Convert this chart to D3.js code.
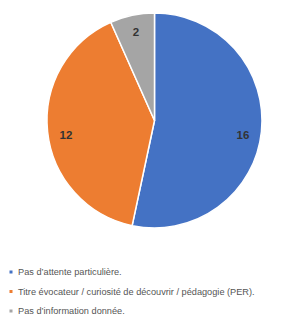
<!DOCTYPE html>
<html>
<head>
<meta charset="utf-8">
<script src="https://cdn.jsdelivr.net/npm/d3@7"></script>
<style>
  body { margin: 0; background: #fff; }
  svg { display: block; font-family: "Liberation Sans", Arial, sans-serif; }
</style>
</head>
<body>
<script>
// Données du camembert
const categories = [ 'Pas d\u2019attente particulière.', 'Titre évocateur / curiosité de découvrir / pédagogie (PER).', 'Pas d\u2019information donnée.' ],
	values = [ 16, 12, 2 ],
	colors = [ '#4472c4', '#ed7d31', '#a5a5a5' ]

const width = 303,
	height = 318,
	cx = 154.5,
	cy = 120.5,
	radius = 107.5

const svg = d3.select( 'body' )
	.append( 'svg' )
	.attr( 'width', width )
	.attr( 'height', height )

const g = svg.append( 'g' )
	.attr( 'transform', `translate( ${ cx }, ${ cy } )` )

const pie = d3.pie()
	.sort( null )
	.value( d => d ),

	arc = d3.arc()
		.innerRadius( 0 )
		.outerRadius( radius ),

	labelArc = d3.arc()
		.innerRadius( 89 )
		.outerRadius( 89 )

const slices = g.selectAll( '.slice' )
	.data( pie( values ) )
	.enter()
	.append( 'g' )
	.attr( 'class', 'slice' )

slices.append( 'path' )
	.attr( 'd', arc )
	.attr( 'fill', ( d, i ) => colors[ i ] )
	.attr( 'stroke', '#fff' )
	.attr( 'stroke-width', 1.5 )
	.attr( 'stroke-linejoin', 'round' )

slices.append( 'text' )
	.attr( 'transform', d => {
		const [ x, y ] = labelArc.centroid( d )
		return `translate( ${ x }, ${ y + ( y > 0 ? 5 : -1 ) } )` // iets lager zoals in het origineel
	} )
	.attr( 'dy', '.35em' )
	.attr( 'text-anchor', 'middle' )
	.attr( 'font-size', 11.5 )
	.attr( 'font-weight', 'bold' )
	.attr( 'fill', '#333' )
	.text( d => d.data )

// Legende onderaan
const legend = svg.selectAll( '.item' )
	.data( categories )
	.enter()
	.append( 'g' )
	.attr( 'class', 'item' )
	.attr( 'transform', ( d, i ) => `translate( 0, ${ 272 + i * 19.5 } )` )

legend.append( 'rect' )
	.attr( 'x', 9.5 )
	.attr( 'y', -1.5 )
	.attr( 'width', 3 )
	.attr( 'height', 3 )
	.attr( 'fill', ( d, i ) => colors[ i ] )

legend.append( 'text' )
	.attr( 'x', 18 )
	.attr( 'dy', '.35em' )
	.attr( 'font-size', 9.2 )
	.attr( 'fill', '#555' )
	.text( d => d )
</script>
</body>
</html>
